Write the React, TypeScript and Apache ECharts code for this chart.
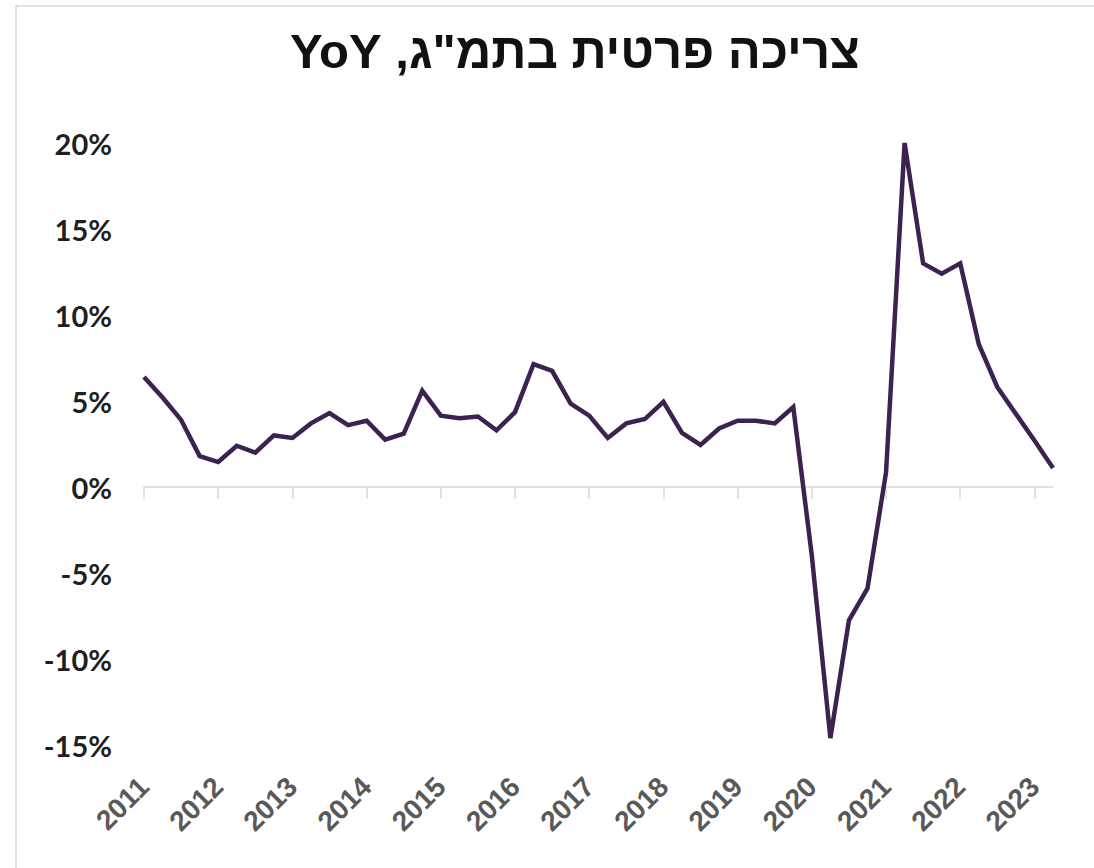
import React, { useEffect, useRef } from "react";
import * as echarts from "echarts";

const titleText = "צריכה פרטית בתמ\"ג, YoY";
const years = ["2011", "2012", "2013", "2014", "2015", "2016", "2017", "2018", "2019", "2020", "2021", "2022", "2023"];
const quarters = ["Q1", "Q2", "Q3", "Q4"];
const yoyValues = [
  6.4, 5.2, 3.9, 1.8, 1.45, 2.4, 2.0, 3.0, 2.85, 3.7, 4.3, 3.6, 3.85, 2.75, 3.1, 5.6,
  4.15, 4.0, 4.1, 3.3, 4.35, 7.15, 6.75, 4.85, 4.15, 2.85, 3.7, 3.95, 4.95, 3.15, 2.45,
  3.4, 3.85, 3.85, 3.7, 4.65, -4.0, -14.6, -7.75, -5.9, 0.85, 20.0, 13.0, 12.4, 13.0,
  8.3, 5.8, 4.25, 2.7, 1.1,
];
const yTicks = { min: -15, max: 20, interval: 5 };

const categories = years
  .flatMap((y) => quarters.map((q) => `${y} ${q}`))
  .slice(0, yoyValues.length);

export default function App() {
  const ref = useRef<HTMLDivElement>(null);
  useEffect(() => {
    if (!ref.current) return;
    const chart = echarts.init(ref.current, null, { renderer: "svg" });
    const labelFont = "'Liberation Sans', Arial, sans-serif";
    chart.setOption({
      animation: false,
      backgroundColor: "#ffffff",
      graphic: [
        {
          type: "rect",
          shape: { x: 16, y: 6, width: 1200, height: 1000 },
          style: { fill: "none", stroke: "#d9d9d9", lineWidth: 1.5 },
          silent: true,
        },
        {
          type: "text",
          x: 575,
          y: 51,
          silent: true,
          style: {
            text: "\u202B" + titleText + "\u202C",
            textAlign: "center",
            textVerticalAlign: "middle",
            fontFamily: labelFont,
            fontWeight: "bold",
            fontSize: 49,
            fill: "#111111",
          },
        },
      ],
      grid: { left: 144, top: 143, width: 909, height: 602, containLabel: false },
      xAxis: [
        {
          type: "category",
          data: categories,
          boundaryGap: false,
          axisLine: { onZero: true, lineStyle: { color: "#d9d9d9", width: 1.5 } },
          axisTick: { show: true, interval: 3, length: 12, lineStyle: { color: "#d9d9d9", width: 1.5 } },
          axisLabel: { show: false },
          splitLine: { show: false },
        },
        {
          type: "category",
          data: categories,
          boundaryGap: false,
          position: "bottom",
          axisLine: { show: false, onZero: false },
          axisTick: { show: false },
          axisLabel: {
            interval: 3,
            rotate: 45,
            margin: 37,
            fontFamily: labelFont,
            fontWeight: "bold",
            fontSize: 28,
            color: "#595959",
            formatter: (v: string) => v.slice(0, 4),
          },
          splitLine: { show: false },
        },
      ],
      yAxis: {
        type: "value",
        min: yTicks.min,
        max: yTicks.max,
        interval: yTicks.interval,
        axisLine: { show: false },
        axisTick: { show: false },
        splitLine: { show: false },
        axisLabel: {
          margin: 32,
          fontFamily: "Lato, 'Open Sans', sans-serif",
          fontWeight: "bold",
          fontSize: 29,
          color: "#1f1f1f",
          formatter: (v: number) => `${v}%`,
        },
      },
      series: [
        {
          type: "line",
          xAxisIndex: 0,
          data: yoyValues,
          showSymbol: false,
          symbol: "none",
          clip: true,
          lineStyle: { color: "#3c2250", width: 4.5, join: "miter", miterLimit: 4 },
        },
      ],
    });
    return () => chart.dispose();
  }, []);
  return (
    <div
      ref={ref}
      style={{ position: "absolute", left: 0, top: 0, width: 1094, height: 868 }}
    />
  );
}
